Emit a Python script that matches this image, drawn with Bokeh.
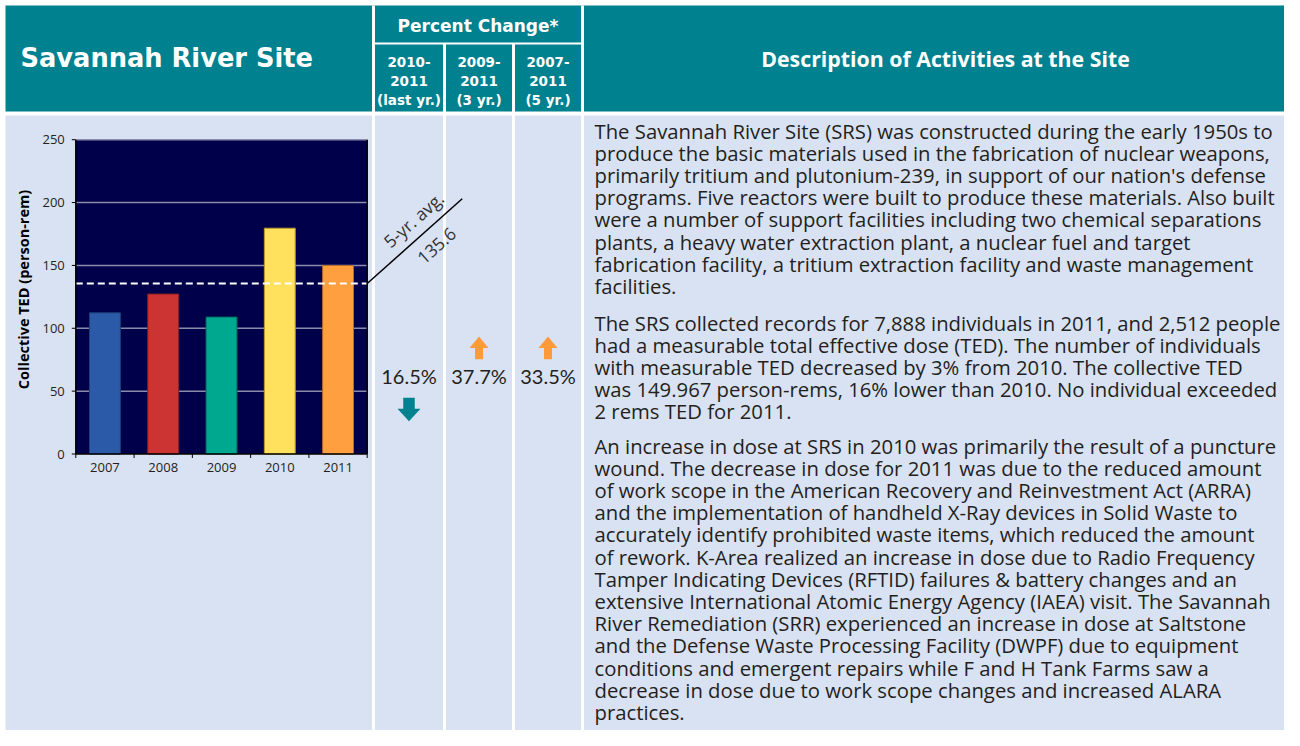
import math
from bokeh.plotting import figure
from bokeh.models import Range1d
from bokeh.core.properties import value
from bokeh.embed import file_html
from bokeh.resources import INLINE

# ---------------- data ----------------
years = [2007, 2008, 2009, 2010, 2011]
year_labels = ["2007", "2008", "2009", "2010", "2011"]
ted = [112.3, 127.2, 108.9, 179.6, 149.967]
bar_colors = ["#2B5BA8", "#CC3333", "#00A890", "#FFE15E", "#FF9F3F"]
bar_edges = ["#1E3F78", "#8E2020", "#006E5E", "#B89A2A", "#B8692A"]
avg_5yr = 135.6
y_ticks = [0, 50, 100, 150, 200, 250]
y_tick_labels = ["0", "50", "100", "150", "200", "250"]
y_title = "Collective TED (person-rem)"

site_name = "Savannah River Site"
pct_title = "Percent Change*"
pct_periods = [["2010-", "2011", "(last yr.)"],
               ["2009-", "2011", "(3 yr.)"],
               ["2007-", "2011", "(5 yr.)"]]
pct_values = ["16.5%", "37.7%", "33.5%"]
pct_dirs = ["down", "up", "up"]
desc_title = "Description of Activities at the Site"

para1 = [
    "The Savannah River Site (SRS) was constructed during the early 1950s to",
    "produce the basic materials used in the fabrication of nuclear weapons,",
    "primarily tritium and plutonium-239, in support of our nation's defense",
    "programs.  Five reactors were built to produce these materials.  Also built",
    "were a number of support facilities including two chemical separations",
    "plants, a heavy water extraction plant, a nuclear fuel and target",
    "fabrication facility, a tritium extraction facility and waste management",
    "facilities.",
]
para2 = [
    "The SRS collected records for 7,888 individuals in 2011, and 2,512 people",
    "had a measurable total effective dose  (TED).  The number of individuals",
    "with measurable TED decreased by 3% from 2010.  The collective TED",
    "was 149.967 person-rems, 16% lower than 2010.  No individual exceeded",
    "2 rems TED for 2011.",
]
para3 = [
    "An increase in dose at SRS in 2010 was primarily the result of a puncture",
    "wound.  The decrease in dose for 2011 was due to the reduced amount",
    "of work scope in the American Recovery and Reinvestment Act (ARRA)",
    "and the implementation of handheld X-Ray devices in Solid Waste to",
    "accurately identify prohibited waste items, which reduced the amount",
    "of rework.  K-Area realized an increase in dose due to Radio Frequency",
    "Tamper Indicating Devices (RFTID) failures & battery changes and an",
    "extensive International Atomic Energy Agency (IAEA) visit.  The Savannah",
    "River Remediation (SRR) experienced an increase in dose at Saltstone",
    "and the Defense Waste Processing Facility (DWPF) due to equipment",
    "conditions and emergent repairs while F and H Tank Farms saw a",
    "decrease in dose due to work scope changes and increased ALARA",
    "practices.",
]

# ---------------- styles / layout ----------------
TEAL = "#00818F"
BODY = "#D9E2F3"
NAVY = "#00004A"
GRID = "#8A8AAA"
TXT = "#231F20"
ORANGE = "#FF9A3A"
BODY_FONT = value("Open Sans")

W, H = 1284, 730
X0, Y0 = 0, 0  # picture offset of the canvas

p = figure(width=W, height=H, output_backend="svg", toolbar_location=None,
           x_range=Range1d(X0, X0 + W), y_range=Range1d(Y0 + H, Y0),
           x_axis_type=None, y_axis_type=None, min_border=0)
p.outline_line_color = None
p.grid.visible = False
p.background_fill_color = "white"
p.border_fill_color = "white"

# table geometry (picture px)
TL, TR = 5, 1300
HT, HB = 5, 111
BT, BB = 115, 746
C1, C2, C3, C4 = 373, 444, 513, 582

p.quad(left=[TL], right=[TR], top=[HT], bottom=[HB], fill_color=TEAL, line_color=None)
p.quad(left=[TL], right=[TR], top=[BT], bottom=[BB], fill_color=BODY, line_color=None)
p.segment(x0=[C1, C4], x1=[C1, C4], y0=[HT, HT], y1=[BB, BB], line_color="white", line_width=3)
p.segment(x0=[C2, C3], x1=[C2, C3], y0=[43, 43], y1=[BB, BB], line_color="white", line_width=3)
p.segment(x0=[C1], x1=[C4], y0=[43], y1=[43], line_color="white", line_width=2)

# header texts
p.text(x=[20], y=[57], text=[site_name], text_font=value("DejaVu Sans"), text_font_style="bold",
       text_font_size="25.7px", text_color="white", text_align="left", text_baseline="middle")
p.text(x=[(C1 + C4) / 2], y=[25], text=[pct_title], text_font=value("DejaVu Sans"),
       text_font_style="bold", text_font_size="17px", text_color="white",
       text_align="center", text_baseline="middle")
col_centers = [(C1 + C2) / 2, (C2 + C3) / 2, (C3 + C4) / 2]
sub_y = [61, 80, 99]
for cx_, lines in zip(col_centers, pct_periods):
    p.text(x=[cx_] * 3, y=sub_y, text=lines, text_font=value("DejaVu Sans"),
           text_font_style="bold", text_font_size="13.5px", text_color="white",
           text_align="center", text_baseline="middle")
p.text(x=[945], y=[58], text=[desc_title], text_font=value("Open Sans"),
       text_font_style="bold", text_font_size="21.3px", text_color="white",
       text_align="center", text_baseline="middle")

# ---------------- bar chart (own scales mapped into the cell) ----------------
L, R, T, B = 75.3, 366.7, 139.2, 453.5
ppy = (R - L) / len(years)
ppu = (B - T) / (y_ticks[-1] - y_ticks[0])
xs, xe = years[0] - 0.5, years[-1] + 0.5
p.extra_x_ranges = {"cx": Range1d(xs - (L - X0) / ppy, xe + (X0 + W - R) / ppy)}
p.extra_y_ranges = {"cy": Range1d(-(Y0 + H - B) / ppu, y_ticks[-1] + (T - Y0) / ppu)}
kw = dict(x_range_name="cx", y_range_name="cy")

p.quad(left=[xs], right=[xe], bottom=[0], top=[y_ticks[-1]], fill_color=NAVY, line_color=None, **kw)
p.segment(x0=[xs] * 5, x1=[xe] * 5, y0=y_ticks[1:], y1=y_ticks[1:], line_color=GRID,
          line_width=1.5, **kw)
p.vbar(x=years, top=ted, bottom=0, width=0.53, fill_color=bar_colors, line_color=bar_edges,
       line_width=1, **kw)
p.segment(x0=[xs], x1=[xe], y0=[avg_5yr], y1=[avg_5yr], line_color="white", line_width=2.2,
          line_dash="7 4", **kw)
# axes lines
p.segment(x0=[xs, xs, xe], x1=[xs, xe, xe], y0=[0, 0, 0], y1=[y_ticks[-1], 0, y_ticks[-1]],
          line_color="black", line_width=1.5, **kw)
# y ticks
p.segment(x0=[xs - 4 / ppy] * len(y_ticks), x1=[xs] * len(y_ticks), y0=y_ticks, y1=y_ticks,
          line_color="black", line_width=1, **kw)
p.text(x=[xs] * len(y_ticks), y=y_ticks, text=y_tick_labels, x_offset=-11,
       text_font=BODY_FONT, text_font_size="13px", text_color=TXT,
       text_align="right", text_baseline="middle", **kw)
# x ticks
bounds = [xs + i for i in range(len(years) + 1)]
p.segment(x0=bounds, x1=bounds, y0=[0] * len(bounds), y1=[-4 / ppu] * len(bounds),
          line_color="black", line_width=1, **kw)
p.text(x=years, y=[0] * len(years), text=year_labels, y_offset=13,
       text_font=BODY_FONT, text_font_size="13px", text_color=TXT,
       text_align="center", text_baseline="middle", **kw)
# y title
p.text(x=[23], y=[289], text=[y_title], angle=math.pi / 2,
       text_font=BODY_FONT, text_font_style="bold", text_font_size="14.5px",
       text_color="black", text_align="center", text_baseline="middle")

# 5-yr avg callout
avg_py = B - avg_5yr * ppu
end_x, end_y = 461.7, 198.3
p.segment(x0=[R], y0=[avg_py], x1=[end_x], y1=[end_y], line_color="black", line_width=1.5)
ang = math.atan2(avg_py - end_y, end_x - R)
p.text(x=[413], y=[219], text=["5-yr. avg."], angle=ang, text_font=BODY_FONT,
       text_font_size="17.5px", text_color="#333333", text_align="center", text_baseline="middle")
p.text(x=[436], y=[245], text=[f"{avg_5yr}"], angle=ang, text_font=BODY_FONT,
       text_font_size="17.5px", text_color="#333333", text_align="center", text_baseline="middle")

# ---------------- percent change column ----------------
p.text(x=col_centers, y=[375] * 3, text=pct_values, text_font=value("Lato"),
       text_font_size="20px", text_color=TXT, text_align="center", text_baseline="middle")


def arrow(cx_, tip, base, hw, sw, hl, direction):
    s = 1 if direction == "down" else -1
    neck = tip - s * hl
    xs_ = [cx_, cx_ + hw / 2, cx_ + sw / 2, cx_ + sw / 2, cx_ - sw / 2, cx_ - sw / 2, cx_ - hw / 2]
    ys_ = [tip, neck, neck, base, base, neck, neck]
    return xs_, ys_


ax_list, ay_list, acol = [], [], []
for cx_, d in zip(col_centers, pct_dirs):
    if d == "down":
        a = arrow(cx_, 420.7, 397.3, 23, 11.5, 12.4, d)
        acol.append(TEAL)
    else:
        a = arrow(cx_, 336, 358.7, 19, 8, 11.5, d)
        acol.append(ORANGE)
    ax_list.append(a[0])
    ay_list.append(a[1])
p.patches(xs=ax_list, ys=ay_list, fill_color=acol, line_color=None)

# ---------------- description text ----------------
LH = 22.2
TX = 594
for y_start, lines in [(130, para1), (322, para2), (445, para3)]:
    p.text(x=[TX] * len(lines), y=[y_start + i * LH for i in range(len(lines))], text=lines,
           text_font=BODY_FONT, text_font_size="20.3px", text_color=TXT,
           text_align="left", text_baseline="middle")

open("out.html", "w").write(file_html(p, INLINE))
